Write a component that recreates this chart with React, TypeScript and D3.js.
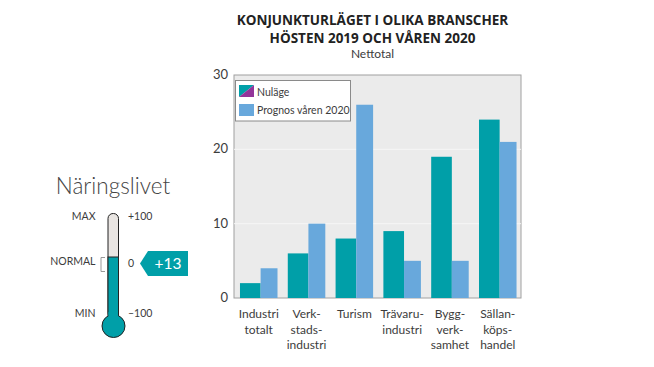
import React from "react";
import * as d3 from "d3";

const categories = [["Industri", "totalt"], ["Verk-", "stads-", "industri"], ["Turism"], ["Trävaru-", "industri"], ["Bygg-", "verk-", "samhet"], ["Sällan-", "köps-", "handel"]];
const nulage = [2, 6, 8, 9, 19, 24];
const prognos = [4, 10, 26, 5, 5, 21];
const yTicks = [0, 10, 20, 30];
const teal = "#009fa8";
const blue = "#68a8dc";
const ink = "#3c3c3c";
const font = "Lato, 'Open Sans', sans-serif";
const titleFont = "'Open Sans', sans-serif";

export default function App() {
  const y = d3.scaleLinear().domain([0, 30]).range([298, 75]);
  const x = d3.scaleBand().domain(categories.map((_, i) => String(i))).range([234, 522.5]).paddingInner(0.215).paddingOuter(0.125);
  const bwA = x.bandwidth() * 0.55;
  const bwB = x.bandwidth() * 0.45;
  const therm = d3.scaleLinear().domain([-100, 100]).range([313.5, 213.5]);
  return (
    <svg width={654} height={367} style={{ position: "absolute", left: 0, top: 0, background: "#fff" }} fontFamily={font}>
      <text x={372.5} y={25} textAnchor="middle" fontSize={13.5} fontWeight={700} fontFamily={titleFont} fill="#222">KONJUNKTURLÄGET I OLIKA BRANSCHER</text>
      <text x={372.5} y={43} textAnchor="middle" fontSize={13.5} fontWeight={700} fontFamily={titleFont} fill="#222">HÖSTEN 2019 OCH VÅREN 2020</text>
      <text x={372.5} y={58} textAnchor="middle" fontSize={12} fill={ink}>Nettotal</text>

      <rect x={234} y={75} width={287} height={223} fill="#ebebeb" stroke="#a0a0a0" strokeWidth={1} />
      {yTicks.map(t => (
        <text key={t} x={228} y={y(t) + 4} textAnchor="end" fontSize={13} fill={ink}>{t}</text>
      ))}
      {yTicks.slice(1, 3).map(t => (
        <line key={t} x1={234} x2={521} y1={y(t)} y2={y(t)} stroke="#f6f6f6" strokeWidth={1} />
      ))}
      {categories.map((c, i) => {
        const x0 = x(String(i))!;
        return (
          <g key={i}>
            <rect x={x0} y={y(nulage[i])} width={bwA} height={y(0) - y(nulage[i])} fill={teal} />
            <rect x={x0 + bwA} y={y(prognos[i])} width={bwB} height={y(0) - y(prognos[i])} fill={blue} />
            {c.map((l, j) => (
              <text key={j} x={x0 + x.bandwidth() / 2} y={318 + j * 15.5} textAnchor="middle" fontSize={12} fill={ink}>{l}</text>
            ))}
          </g>
        );
      })}

      <rect x={235.5} y={80.5} width={115} height={40.5} fill="#fff" stroke="#8a8a8a" />
      <polygon points="239,85 254,85 239,97" fill={teal} />
      <polygon points="254,85 254,97 239,97" fill="#93359a" />
      <rect x={239} y={104} width={15} height={12} fill={blue} />
      <text x={257} y={96} fontSize={10.5} fill={ink}>Nuläge</text>
      <text x={257} y={114} fontSize={10.5} fill={ink}>Prognos våren 2020</text>

      <text x={113} y={194} textAnchor="middle" fontSize={22.5} fontWeight={300} fill="#444">Näringslivet</text>
      <rect x={108} y={213.5} width={10.5} height={105} rx={5} fill="#e9e5e2" stroke="#222" strokeWidth={1} />
      <rect x={108} y={therm(13)} width={10.5} height={62} fill={teal} stroke="#222" strokeWidth={1} />
      <circle cx={113.5} cy={326} r={11.5} fill={teal} stroke="#222" strokeWidth={1} />
      <rect x={108.5} y={312} width={9.5} height={8} fill={teal} />
      <text x={95.5} y={220} textAnchor="end" fontSize={10.5} fill={ink}>MAX</text>
      <text x={95.5} y={265} textAnchor="end" fontSize={10.5} fill={ink}>NORMAL</text>
      <text x={95.5} y={317} textAnchor="end" fontSize={10.5} fill={ink}>MIN</text>
      <text x={128} y={220} fontSize={10.5} fill={ink}>+100</text>
      <text x={128} y={267} fontSize={10.5} fill={ink}>0</text>
      <text x={128} y={317} fontSize={10.5} fill={ink}>–100</text>
      <path d="M105,257.5 h-4 v14 h4" fill="none" stroke="#999" strokeWidth={1} />
      <polygon points="140,263.5 148,251 188,251 188,276 148,276" fill={teal} />
      <text x={168} y={269} textAnchor="middle" fontSize={15.5} fill="#fff">+13</text>
    </svg>
  );
}
